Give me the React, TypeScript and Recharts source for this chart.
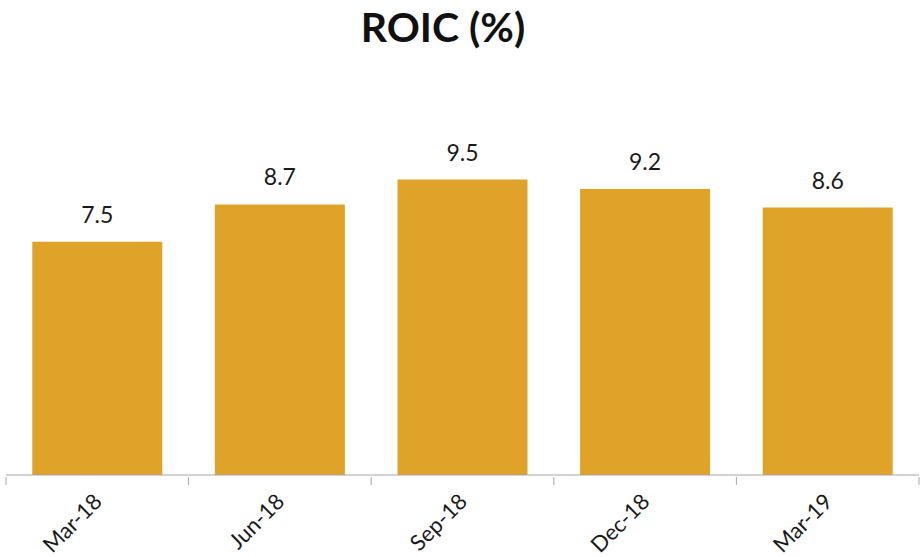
import React from "react";
import { BarChart, Bar, XAxis, YAxis, LabelList } from "recharts";

const categories = ["Mar-18", "Jun-18", "Sep-18", "Dec-18", "Mar-19"];
const roicValues = [7.5, 8.7, 9.5, 9.2, 8.6];

const data = categories.map((c, i) => ({ name: c, roic: roicValues[i] }));

const FONT = "Lato, 'Open Sans', sans-serif";
const AXIS_COLOR = "#A6A6A6";

const AngledTick = (props: any) => {
  const { x, y, payload, index, visibleTicksCount } = props;
  const half = payload && payload.offset ? payload.offset : 91.3;
  const axisY = y - 2;
  const tx = x + 6;
  const ty = axisY + 26;
  return (
    <g>
      <line x1={x - half} y1={axisY} x2={x - half} y2={axisY + 8} stroke={AXIS_COLOR} />
      {index === visibleTicksCount - 1 && (
        <line x1={x + half} y1={axisY} x2={x + half} y2={axisY + 8} stroke={AXIS_COLOR} />
      )}
      <text
        x={tx}
        y={ty}
        transform={`rotate(-45, ${tx}, ${ty})`}
        textAnchor="end"
        fontFamily={FONT}
        fontSize={22}
        fill="#1a1a1a"
      >
        {payload.value}
      </text>
    </g>
  );
};

export default function App() {
  return (
    <div style={{ position: "absolute", left: 0, top: 0, width: 920, height: 557, background: "#fff" }}>
      <div
        style={{
          position: "absolute",
          left: 0,
          top: 2,
          width: 886,
          textAlign: "center",
          fontFamily: FONT,
          fontWeight: 700,
          fontSize: 41,
          color: "#111",
        }}
      >
        ROIC (%)
      </div>
      <BarChart
        width={920}
        height={557}
        data={data}
        margin={{ top: 164, right: 1, bottom: 0, left: 6 }}
        barCategoryGap="14.4%"
      >
        <XAxis
          dataKey="name"
          type="category"
          height={82}
          axisLine={{ stroke: AXIS_COLOR }}
          tickLine={false}
          tickSize={2}
          tick={<AngledTick />}
          interval={0}
        />
        <YAxis hide domain={[0, 10]} />
        <Bar dataKey="roic" fill="#E0A32A" isAnimationActive={false}>
          <LabelList
            dataKey="roic"
            position="top"
            offset={19}
            fontFamily={FONT}
            fontSize={23}
            fill="#1a1a1a"
            formatter={(v: any) => Number(v).toFixed(1)}
          />
        </Bar>
      </BarChart>
    </div>
  );
}
